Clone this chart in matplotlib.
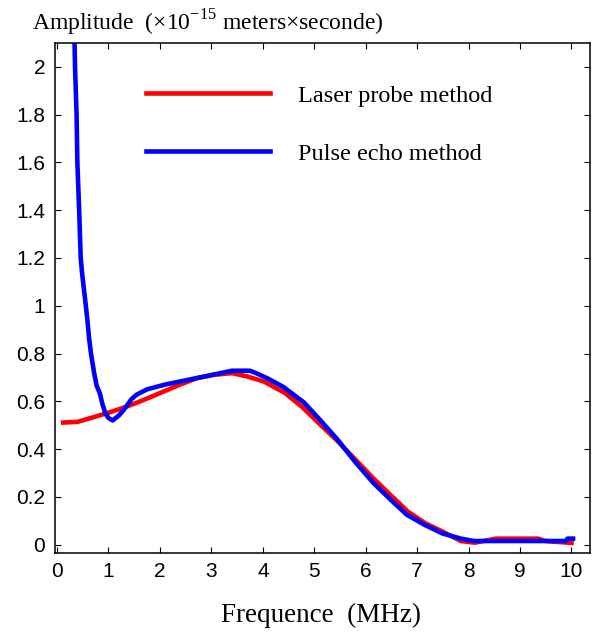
import matplotlib
matplotlib.use('Agg')
import matplotlib.pyplot as plt
from matplotlib.ticker import FormatStrFormatter, MultipleLocator

# ── data ──────────────────────────────────────────────────────────────────────
laser_freq = [0.12, 0.40, 0.67, 1.01, 1.29, 1.50, 1.70, 2.04, 2.38, 2.72, 3.06,
              3.40, 3.68, 4.02, 4.43, 4.77, 5.11, 5.45, 5.80, 6.14, 6.48, 6.82,
              7.16, 7.50, 7.85, 8.12, 8.53, 9.35, 9.49, 10.0]
laser_amp = [0.511, 0.514, 0.531, 0.553, 0.573, 0.590, 0.607, 0.638, 0.669, 0.697,
             0.711, 0.718, 0.705, 0.683, 0.635, 0.575, 0.504, 0.434, 0.356, 0.279,
             0.208, 0.138, 0.089, 0.054, 0.015, 0.008, 0.025, 0.025, 0.015, 0.007]

echo_freq = [0.33, 0.35, 0.38, 0.395, 0.43, 0.46, 0.49, 0.56, 0.59, 0.625, 0.66,
             0.72, 0.77, 0.83, 0.88, 0.94, 1.00, 1.08, 1.20, 1.30, 1.45, 1.55,
             1.75, 2.10, 2.55, 3.00, 3.40, 3.75, 3.90, 4.10, 4.40, 4.80, 5.10,
             5.45, 5.80, 6.15, 6.50, 6.80, 7.15, 7.50, 7.85, 8.10, 9.90, 9.92,
             10.03]
echo_amp = [2.20, 2.00, 1.80, 1.60, 1.40, 1.20, 1.13, 1.00, 0.94, 0.86, 0.80,
            0.72, 0.665, 0.635, 0.59, 0.55, 0.53, 0.52, 0.54, 0.565, 0.61, 0.628,
            0.65, 0.67, 0.69, 0.71, 0.728, 0.728, 0.715, 0.695, 0.66, 0.595,
            0.525, 0.44, 0.345, 0.258, 0.185, 0.125, 0.082, 0.046, 0.025, 0.015,
            0.015, 0.025, 0.025]

labels = ['Laser probe method', 'Pulse echo method']

# ── style ─────────────────────────────────────────────────────────────────────
SERIF = 'Liberation Serif'
SANS = 'Liberation Sans'
plt.rcParams['mathtext.fontset'] = 'custom'
plt.rcParams['mathtext.rm'] = SERIF

fig = plt.figure(figsize=(5.95, 6.34), dpi=100)
ax = fig.add_axes([0.0924, 0.1282, 0.8992, 0.8039])

ax.plot(laser_freq, laser_amp, color='#ff0000', lw=3.3, label=labels[0])
ax.plot(echo_freq, echo_amp, color='#0000ff', lw=3.3, label=labels[1])

ax.set_xlim(-0.04, 10.36)
ax.set_ylim(-0.034, 2.1)
ax.xaxis.set_major_locator(MultipleLocator(1))
ax.yaxis.set_major_locator(MultipleLocator(0.2))
ax.yaxis.set_major_formatter(FormatStrFormatter('%g'))
ax.tick_params(direction='in', top=True, right=True, length=4, width=0.8,
               pad=7, labelsize=15)
for lab in ax.get_xticklabels() + ax.get_yticklabels():
    lab.set_family(SANS)
for sp in ax.spines.values():
    sp.set_linewidth(1.1)

leg = ax.legend(loc='upper left', bbox_to_anchor=(0.17, 0.918), frameon=False,
                prop={'family': SERIF, 'size': 17.5}, handlelength=5.1,
                handletextpad=1.15, labelspacing=1.48, borderpad=0,
                borderaxespad=0)

fig.text(32 / 595, 1 - 31 / 634,
         r'Amplitude  ($\times$10$^{-15}$ meters$\times$seconde)',
         family=SERIF, fontsize=17, ha='left', va='baseline')
fig.text(321 / 595, 1 - 615 / 634, 'Frequence  (MHz)', family=SERIF,
         fontsize=19.5, ha='center', va='center')

fig.savefig('out.png', dpi=100)
